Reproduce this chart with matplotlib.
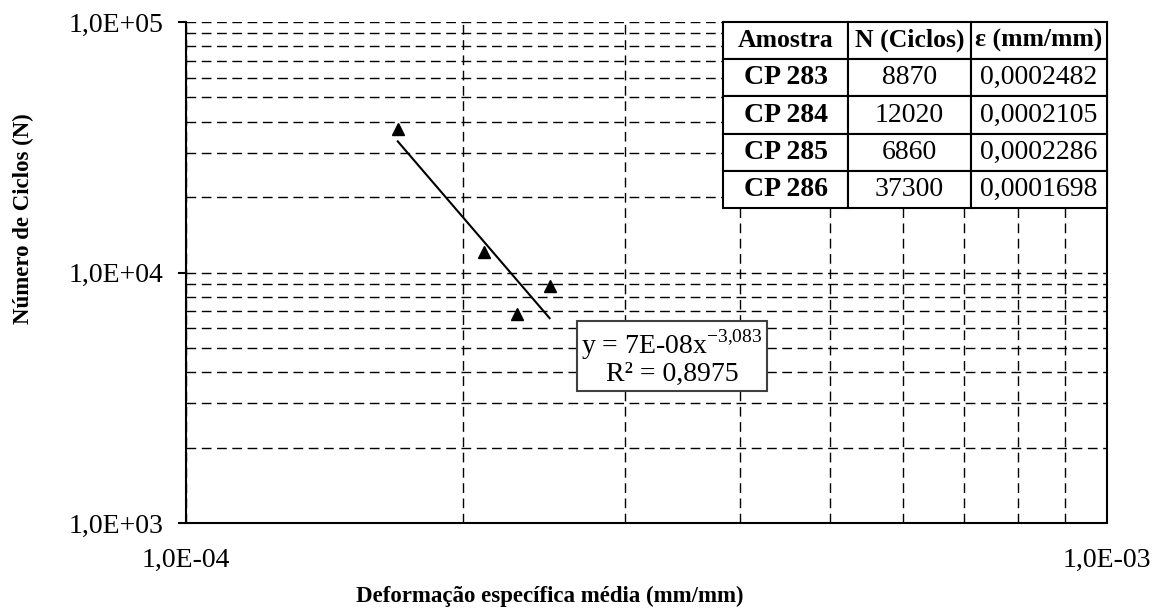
import numpy as np
import matplotlib
matplotlib.use("Agg")
import matplotlib.pyplot as plt
from matplotlib.ticker import FixedLocator, NullFormatter, LogLocator

plt.rcParams['font.family'] = ['Liberation Serif', 'DejaVu Serif']
plt.rcParams['mathtext.fontset'] = 'custom'
plt.rcParams['mathtext.rm'] = 'Liberation Serif'

# ---- data ----
amostras = ["CP 283", "CP 284", "CP 285", "CP 286"]
ciclos = [8870, 12020, 6860, 37300]
deformacao = [0.0002482, 0.0002105, 0.0002286, 0.0001698]
ciclos_txt = ["8870", "12020", "6860", "37300"]
deform_txt = ["0,0002482", "0,0002105", "0,0002286", "0,0001698"]
col_labels = ["Amostra", "N (Ciclos)", "ε (mm/mm)"]
eq_text = "y = 7E-08x$^{\\mathrm{-3{,}083}}$\nR² = 0,8975"
x_ticks = [1e-4, 1e-3]
x_ticklabels = ["1,0E-04", "1,0E-03"]
y_ticks = [1e3, 1e4, 1e5]
y_ticklabels = ["1,0E+03", "1,0E+04", "1,0E+05"]

W, H = 1154, 609
fig = plt.figure(figsize=(W / 100, H / 100), dpi=100)
L, R, T, B = 186, 1107, 22, 523
ax = fig.add_axes([L / W, 1 - B / H, (R - L) / W, (B - T) / H])
ax.set_xscale('log')
ax.set_yscale('log')
ax.set_xlim(1e-4, 1e-3)
ax.set_ylim(1e3, 1e5)

ax.xaxis.set_major_locator(FixedLocator(x_ticks))
ax.set_xticklabels(x_ticklabels)
ax.yaxis.set_major_locator(FixedLocator(y_ticks))
ax.set_yticklabels(y_ticklabels)
ax.xaxis.set_minor_locator(LogLocator(base=10, subs=np.arange(2, 10)))
ax.yaxis.set_minor_locator(LogLocator(base=10, subs=np.arange(2, 10)))
ax.xaxis.set_minor_formatter(NullFormatter())
ax.yaxis.set_minor_formatter(NullFormatter())
ax.tick_params(axis='x', which='both', length=0, pad=18, labelsize=20)
ax.tick_params(axis='y', which='major', length=6, width=1.5, pad=10, labelsize=20)
ax.tick_params(axis='y', which='minor', length=0)

ax.grid(True, which='both', linestyle=(0, (7, 4)), color='black', lw=1, zorder=0)
ax.set_axisbelow(True)
for s in ['left', 'bottom', 'right']:
    ax.spines[s].set_linewidth(1.5)
    ax.spines[s].set_color('black')
ax.spines['top'].set_visible(False)

# points
ax.plot(deformacao, ciclos, linestyle='none', marker='^', color='black', markersize=9, zorder=4)

# trend line (power fit)
lx = np.log10(deformacao)
ly = np.log10(ciclos)
m, c = np.polyfit(lx, ly, 1)
xs = np.logspace(lx.min(), lx.max(), 50)
ax.plot(xs, 10 ** (c + m * np.log10(xs)), color='black', lw=1.5, zorder=3)

# equation box
ax.text((672 - L) / (R - L), (B - 357) / (B - T), eq_text, transform=ax.transAxes,
        ha='center', va='center', fontsize=20, linespacing=1.0, zorder=5,
        bbox=dict(boxstyle='square,pad=0.15', fc='white', ec='#404040', lw=1.5))

# table
rows = [[a, n, e] for a, n, e in zip(amostras, ciclos_txt, deform_txt)]
tx0, tx1, ty0, ty1 = 723, 1107, 22, 208
tb = ax.table(cellText=rows, colLabels=col_labels, cellLoc='center',
              bbox=[(tx0 - L) / (R - L), (B - ty1) / (B - T), (tx1 - tx0) / (R - L), (ty1 - ty0) / (B - T)],
              colWidths=[125, 123, 136], zorder=6)
tb.auto_set_font_size(False)
for (r, cidx), cell in tb.get_celld().items():
    cell.set_linewidth(1.5)
    cell.set_edgecolor('black')
    cell.set_facecolor('white')
    txt = cell.get_text()
    txt.set_fontsize(18.5 if r == 0 else 20)
    txt.set_fontfamily(['Liberation Serif', 'DejaVu Serif'])
    if r == 0 or cidx == 0:
        txt.set_fontweight('bold')

# axis labels
fig.text(550 / W, 1 - 596 / H, "Deformação específica média (mm/mm)", ha='center', va='center',
         fontsize=16.5, fontweight='bold')
fig.text(23 / W, 1 - 219 / H, "Número de Ciclos (N)", ha='center', va='center',
         fontsize=16.5, fontweight='bold', rotation=90)

fig.savefig("out.png", dpi=100, facecolor='white')
